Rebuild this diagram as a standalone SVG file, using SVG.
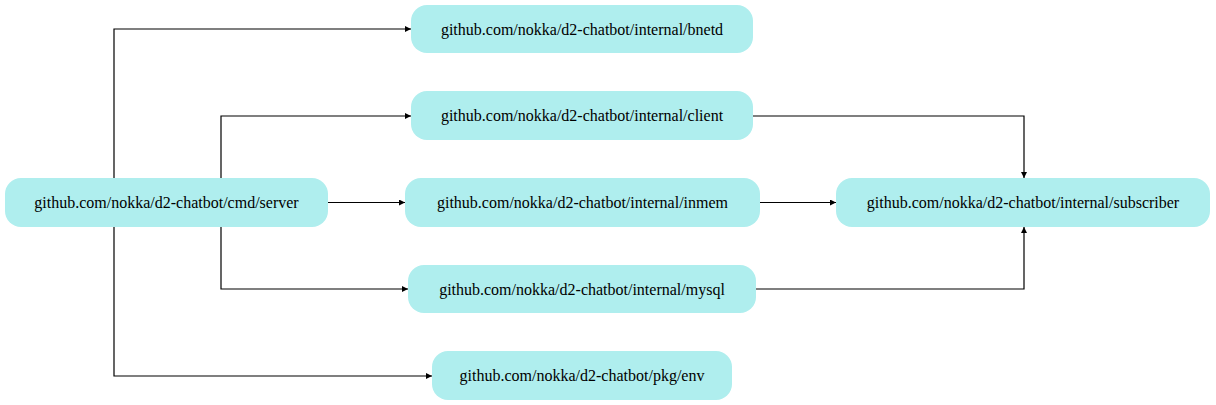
<svg xmlns="http://www.w3.org/2000/svg" width="1216" height="405" viewBox="0 0 1216 405">
<defs>
<style>
.box{fill:#afeeee;stroke:none}
.edge{fill:none;stroke:#000;stroke-width:1.2}
</style>
<marker id="arr" viewBox="0 0 10 10" refX="10" refY="5" markerWidth="8" markerHeight="6" markerUnits="userSpaceOnUse" orient="auto">
<path d="M0,0 L10,5 L0,10 z" fill="#000"/>
</marker>
</defs>
<rect width="1216" height="405" fill="#fff"/>
<g id="server"><rect class="box" x="5" y="178" width="323" height="49" rx="16"/><text style="font-family:'Liberation Serif','Times New Roman',Times,serif;font-size:16px" text-anchor="middle" x="166.5" y="208">github.com/nokka/d2-chatbot/cmd/server</text></g>
<g id="bnetd"><rect class="box" x="411" y="5" width="342" height="48" rx="16"/><text style="font-family:'Liberation Serif','Times New Roman',Times,serif;font-size:16px" text-anchor="middle" x="582" y="34.5">github.com/nokka/d2-chatbot/internal/bnetd</text></g>
<g id="client"><rect class="box" x="411" y="91" width="342" height="49" rx="16"/><text style="font-family:'Liberation Serif','Times New Roman',Times,serif;font-size:16px" text-anchor="middle" x="582" y="121">github.com/nokka/d2-chatbot/internal/client</text></g>
<g id="inmem"><rect class="box" x="405" y="178" width="355" height="49" rx="16"/><text style="font-family:'Liberation Serif','Times New Roman',Times,serif;font-size:16px" text-anchor="middle" x="582.5" y="208">github.com/nokka/d2-chatbot/internal/inmem</text></g>
<g id="mysql"><rect class="box" x="408" y="265" width="348" height="48" rx="16"/><text style="font-family:'Liberation Serif','Times New Roman',Times,serif;font-size:16px" text-anchor="middle" x="582" y="294.5">github.com/nokka/d2-chatbot/internal/mysql</text></g>
<g id="env"><rect class="box" x="432" y="351" width="300" height="49" rx="16"/><text style="font-family:'Liberation Serif','Times New Roman',Times,serif;font-size:16px" text-anchor="middle" x="582" y="381">github.com/nokka/d2-chatbot/pkg/env</text></g>
<g id="subscriber"><rect class="box" x="836" y="178" width="374" height="49" rx="16"/><text style="font-family:'Liberation Serif','Times New Roman',Times,serif;font-size:16px" text-anchor="middle" x="1023" y="208">github.com/nokka/d2-chatbot/internal/subscriber</text></g>
<g id="connectors">
<path class="edge" marker-end="url(#arr)" d="M114,178 V29 H411"/>
<path class="edge" marker-end="url(#arr)" d="M221,178 V116 H411"/>
<path class="edge" marker-end="url(#arr)" d="M328,202.5 H405"/>
<path class="edge" marker-end="url(#arr)" d="M221,227 V289 H408"/>
<path class="edge" marker-end="url(#arr)" d="M114,227 V376 H432"/>
<path class="edge" marker-end="url(#arr)" d="M753,116 H1024 V178"/>
<path class="edge" marker-end="url(#arr)" d="M760,202.5 H836"/>
<path class="edge" marker-end="url(#arr)" d="M756,289 H1024 V227"/>
</g>
</svg>
